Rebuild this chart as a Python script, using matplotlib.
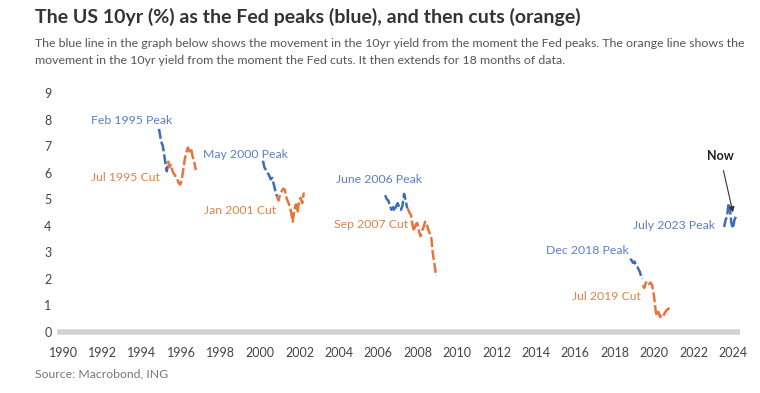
import matplotlib.pyplot as plt

BLUE, ORANGE = "#3d6cb9", "#e8743b"
BLUE_TXT, ORANGE_TXT = "#5b7fc4", "#e0824a"
DARK, GRAY = "#333333", "#666666"

plt.rcParams.update({"font.family": ["Lato", "DejaVu Sans"]})

# ---- data: 10yr yield after Fed peak (blue) and after first cut (orange) ----
peak95_x = [1994.87, 1994.92, 1994.97, 1995.02, 1995.07, 1995.12, 1995.17, 1995.22, 1995.27, 1995.32]
peak95_y = [7.65, 7.45, 7.2, 7.1, 7.0, 6.75, 6.5, 6.25, 6.05, 6.3]
cut95_x = [1995.33, 1995.4, 1995.48, 1995.56, 1995.64, 1995.72, 1995.8, 1995.88, 1995.95, 1996.02,
           1996.1, 1996.18, 1996.26, 1996.34, 1996.42, 1996.5, 1996.58, 1996.66, 1996.74]
cut95_y = [6.45, 6.2, 6.3, 6.05, 5.95, 5.85, 5.75, 5.6, 5.55, 5.7,
           6.1, 6.5, 6.75, 6.95, 6.8, 6.9, 6.6, 6.4, 6.1]

peak00_x = [2000.15, 2000.22, 2000.3, 2000.38, 2000.46, 2000.54, 2000.62, 2000.7, 2000.78, 2000.86]
peak00_y = [6.45, 6.2, 6.1, 6.0, 5.9, 5.75, 5.8, 5.55, 5.3, 5.1]
cut01_x = [2000.86, 2000.94, 2001.02, 2001.1, 2001.18, 2001.26, 2001.34, 2001.42, 2001.5, 2001.58,
           2001.66, 2001.74, 2001.82, 2001.9, 2001.98, 2002.06, 2002.14, 2002.22]
cut01_y = [5.1, 4.95, 5.2, 5.3, 5.4, 5.35, 5.05, 4.9, 4.75, 4.5,
           4.15, 4.6, 4.8, 4.5, 4.95, 5.05, 4.85, 5.25]

peak06_x = [2006.35, 2006.43, 2006.51, 2006.59, 2006.67, 2006.75, 2006.83, 2006.91, 2006.99, 2007.07,
            2007.15, 2007.23, 2007.31, 2007.39, 2007.47]
peak06_y = [5.15, 5.0, 4.95, 4.75, 4.6, 4.7, 4.55, 4.75, 4.85, 4.65, 4.6, 4.75, 5.2, 4.95, 4.65]
cut07_x = [2007.5, 2007.58, 2007.66, 2007.74, 2007.82, 2007.9, 2007.98, 2008.06, 2008.14, 2008.22,
           2008.3, 2008.38, 2008.46, 2008.54, 2008.62, 2008.7, 2008.76, 2008.82, 2008.88, 2008.93]
cut07_y = [4.65, 4.5, 4.4, 4.0, 3.8, 4.05, 4.1, 3.8, 3.6, 3.8,
           3.95, 4.15, 4.05, 3.85, 3.7, 3.5, 3.0, 2.7, 2.4, 2.1]

peak18_x = [2018.78, 2018.85, 2018.92, 2019.0, 2019.07, 2019.14, 2019.21, 2019.28, 2019.35, 2019.42]
peak18_y = [2.75, 2.7, 2.6, 2.65, 2.5, 2.45, 2.35, 2.25, 2.05, 2.0]
cut19_x = [2019.42, 2019.5, 2019.58, 2019.66, 2019.74, 2019.82, 2019.9, 2019.95, 2020.0, 2020.05,
           2020.1, 2020.15, 2020.22, 2020.3, 2020.38, 2020.46, 2020.54, 2020.62, 2020.7, 2020.78]
cut19_y = [1.75, 1.65, 1.85, 1.9, 1.8, 1.85, 1.75, 1.55, 1.3, 0.95,
           0.7, 0.6, 0.75, 0.55, 0.65, 0.6, 0.7, 0.8, 0.85, 0.9]

peak23_x = [2023.55, 2023.62, 2023.7, 2023.78, 2023.85, 2023.92, 2024.0, 2024.07, 2024.15]
peak23_y = [3.95, 4.2, 4.35, 4.85, 4.6, 4.1, 3.9, 4.2, 4.35]

blue_series = [(peak95_x, peak95_y), (peak00_x, peak00_y), (peak06_x, peak06_y),
               (peak18_x, peak18_y), (peak23_x, peak23_y)]
orange_series = [(cut95_x, cut95_y), (cut01_x, cut01_y), (cut07_x, cut07_y), (cut19_x, cut19_y)]

peak_labels = ["Feb 1995 Peak", "May 2000 Peak", "June 2006 Peak", "Dec 2018 Peak", "July 2023 Peak"]
peak_label_pos = [(1995.53, 7.97), (2001.42, 6.69), (2008.22, 5.75), (2018.73, 3.05), (2023.1, 4.02)]
cut_labels = ["Jul 1995 Cut", "Jan 2001 Cut", "Sep 2007 Cut", "Jul 2019 Cut"]
cut_label_pos = [(1994.92, 5.83), (2000.81, 4.59), (2007.51, 4.06), (2019.34, 1.32)]

fig = plt.figure(figsize=(7.6, 3.93), dpi=100)
ax = fig.add_axes([0.0751, 0.1425, 0.8984, 0.634])

for xs, ys in blue_series:
    ax.plot(xs, ys, color=BLUE, lw=1.8, dashes=(4, 1.2), zorder=3)
for xs, ys in orange_series:
    ax.plot(xs, ys, color=ORANGE, lw=1.8, dashes=(4, 1.2), zorder=3)

for txt, (x, y) in zip(peak_labels, peak_label_pos):
    ax.text(x, y, txt, color=BLUE_TXT, fontsize=8.8, ha="right", va="center")
for txt, (x, y) in zip(cut_labels, cut_label_pos):
    ax.text(x, y, txt, color=ORANGE_TXT, fontsize=8.8, ha="right", va="center")

ax.annotate("Now", xy=(2024.0, 4.5), xytext=(2023.35, 6.62), ha="center", va="center",
            fontsize=9, fontweight="bold", color="#222222",
            arrowprops=dict(arrowstyle="-|>", color="#333333", lw=0.8, mutation_scale=8,
                            shrinkA=4, shrinkB=0))

# x axis drawn as a thick light-gray band
ax.axhline(0, color="#d3d3d3", lw=4, solid_capstyle="round", zorder=1)

ax.set_xlim(1989.7, 2024.35)
ax.set_ylim(-0.2, 9.2)
ax.set_xticks(range(1990, 2025, 2))
ax.set_yticks(range(0, 10))
for s in ax.spines.values():
    s.set_visible(False)
ax.tick_params(axis="x", length=0, pad=7, labelsize=9, labelcolor="#444444")
ax.tick_params(axis="y", length=0, pad=4, labelsize=9, labelcolor="#444444")

fig.text(0.046, 0.958, "The US 10yr (%) as the Fed peaks (blue), and then cuts (orange)",
         fontsize=14, fontweight="bold", color=DARK, va="center")
fig.text(0.046, 0.89, "The blue line in the graph below shows the movement in the 10yr yield from the moment "
         "the Fed peaks. The orange line shows the", fontsize=8.95, color="#555555", va="center")
fig.text(0.046, 0.847, "movement in the 10yr yield from the moment the Fed cuts. It then extends for 18 "
         "months of data.", fontsize=8.95, color="#555555", va="center")
fig.text(0.046, 0.048, "Source: Macrobond, ING", fontsize=8.8, color="#777777", va="center")

plt.savefig("out.png", dpi=100, facecolor="white")
